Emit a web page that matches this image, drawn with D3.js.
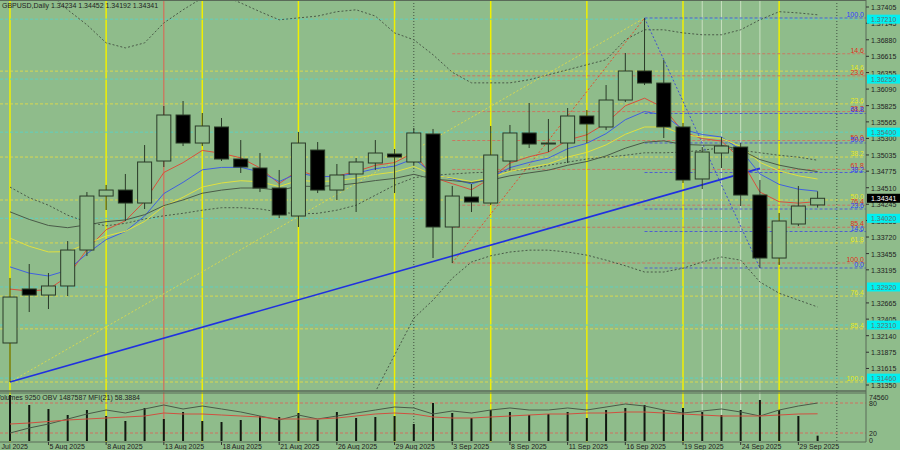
<!DOCTYPE html>
<html>
<head>
<meta charset="utf-8">
<script src="https://cdn.jsdelivr.net/npm/d3@7"></script>
<style>
  body { margin: 0; background: #8fbc8b; }
  svg { display: block; }
  text { font-family: "Liberation Sans", sans-serif; font-size: 7px; }
</style>
</head>
<body>
<svg id="chart" width="900" height="450"></svg>
<script>
// OHLC per daily bar
const opens  = [1.32023,1.32888,1.32791,1.32936,1.33512,1.34377,1.34473,1.34265,1.34938,1.35675,1.35226,1.35483,1.34970,1.34826,1.34505,1.34057,1.35114,1.34473,1.34730,1.34906,1.35050,1.34922,1.35371,1.33881,1.34361,1.34265,1.34938,1.35387,1.35210,1.35226,1.35659,1.35483,1.35915,1.36380,1.36187,1.35483,1.34650,1.35066,1.35162,1.34393,1.33384,1.33929,1.34234];
const highs  = [1.33064,1.33288,1.33144,1.33656,1.34441,1.34554,1.34730,1.35194,1.35819,1.35899,1.35707,1.35627,1.35274,1.35066,1.34794,1.35403,1.35242,1.34890,1.34986,1.35274,1.35130,1.35467,1.35451,1.34538,1.34570,1.35499,1.35515,1.35867,1.35611,1.35787,1.35755,1.36155,1.36668,1.37229,1.36556,1.35547,1.35162,1.35322,1.35226,1.34634,1.34105,1.34538,1.34452];
const lows   = [1.31398,1.32519,1.32567,1.32775,1.33416,1.34153,1.33977,1.34169,1.34842,1.35178,1.35178,1.34938,1.34746,1.34441,1.34025,1.33881,1.34425,1.34313,1.34121,1.34794,1.34425,1.34874,1.33384,1.33304,1.34121,1.34233,1.34794,1.35146,1.35082,1.34906,1.35226,1.35435,1.35883,1.36155,1.35306,1.34586,1.34489,1.34826,1.34217,1.33224,1.33272,1.33897,1.34192];
const closes = [1.32759,1.32791,1.32936,1.33512,1.34377,1.34473,1.34265,1.34922,1.35675,1.35226,1.35499,1.34970,1.34842,1.34505,1.34073,1.35226,1.34473,1.34714,1.34922,1.35066,1.35002,1.35387,1.33881,1.34377,1.34281,1.35034,1.35387,1.35210,1.35226,1.35659,1.35531,1.35915,1.36380,1.36187,1.35483,1.34634,1.35082,1.35178,1.34393,1.33384,1.33977,1.34217,1.34341];

// Bollinger-type envelope
const bandUpper = [1.3800,1.3784,1.3764,1.3736,1.3712,1.3683,1.3675,1.3683,1.3715,1.3736,1.3755,1.3760,1.3747,1.3733,1.3720,1.3723,1.3726,1.3733,1.3736,1.3726,1.3699,1.3688,1.3664,1.3636,1.3619,1.3619,1.3619,1.3624,1.3632,1.3640,1.3648,1.3656,1.3688,1.3704,1.3704,1.3699,1.3696,1.3696,1.3704,1.3720,1.3733,1.3731,1.3728];
const bandMid   = [1.3452,1.3435,1.3423,1.3407,1.3396,1.3390,1.3394,1.3401,1.3406,1.3410,1.3415,1.3419,1.3419,1.3417,1.3412,1.3409,1.3410,1.3415,1.3423,1.3439,1.3455,1.3467,1.3471,1.3473,1.3475,1.3476,1.3478,1.3481,1.3487,1.3492,1.3497,1.3500,1.3503,1.3507,1.3507,1.3508,1.3511,1.3515,1.3511,1.3507,1.3503,1.3500,1.3495];
const bandLower = [1.3063,1.3063,1.3063,1.3063,1.3063,1.3063,1.3063,1.3063,1.3063,1.3063,1.3063,1.3063,1.3063,1.3063,1.3063,1.3063,1.3063,1.3063,1.3063,1.3124,1.3183,1.3242,1.3271,1.3306,1.3332,1.3342,1.3348,1.3351,1.3351,1.3348,1.3343,1.3335,1.3326,1.3316,1.3316,1.3322,1.3332,1.3340,1.3335,1.3300,1.3282,1.3271,1.3260];

// moving averages: periods, colours and the value each held before the first bar
const maPeriods = [5, 8, 13, 21];
const maColors  = ["#d9503c", "#4060e0", "#e0e040", "#4a5a48"];
const maStart   = [1.3295, 1.3338, 1.3386, 1.3426];

// lower panel
const volumes = [79800,62400,55500,45100,53800,43400,34700,57200,38200,50300,34700,32900,36400,43400,41600,48600,36400,50300,39900,41600,43400,29500,65900,48600,39900,53800,50300,45100,46800,50300,39900,53800,57200,62400,53800,57200,50300,45100,53800,71100,53800,43400,9250];
const mfi = [38,40,43,46,48,50,52,54,60,58,58,56,54,52,48,48,48,50,54,58,60,58,52,50,50,52,54,56,58,58,60,60,62,62,60,58,56,54,54,54,56,58,58.3884];
const obv = [1124000,1184900,1233300,1293900,1354500,1403000,1366700,1415200,1463600,1415200,1451500,1415200,1378800,1330300,1281800,1342400,1293900,1330300,1366700,1403000,1439400,1427300,1354500,1390900,1366700,1403000,1427300,1403000,1403000,1427300,1403000,1439400,1475800,1451500,1403000,1366700,1390900,1415200,1378800,1330300,1403000,1451500,1487587];

// axes
const priceTicks = [1.37405,1.37145,1.36880,1.36615,1.36355,1.36090,1.35825,1.35565,1.35300,1.35035,1.34775,1.34510,1.34245,1.33985,1.33720,1.33455,1.33195,1.32665,1.32405,1.32140,1.31875,1.31615,1.31350];
const dateLabels = ["31 Jul 2025","5 Aug 2025","8 Aug 2025","13 Aug 2025","18 Aug 2025","21 Aug 2025","26 Aug 2025","29 Aug 2025","3 Sep 2025","8 Sep 2025","11 Sep 2025","16 Sep 2025","19 Sep 2025","24 Sep 2025","29 Sep 2025"];
const dateBars   = [-1,2,5,8,11,14,17,20,23,26,29,32,35,38,41];

// markup
const weekBars   = [0,5,10,15,20,25,30,35,40];
const redBars    = [8];
const dottedBars = [21,43];
const thinBars   = [36,37,38,39];
const pivotLevels = [1.3721,1.3625,1.3540,1.3402,1.3292,1.3231,1.3146];
const fibYellowRatios = [14.6,23.6,38.2,50.0,61.8,76.4,85.4,100.0];
const fibRedRatios    = [14.6,23.6,38.2,50.0,61.8,76.4,85.4,100.0];
const fibBlueRatios   = [0.0,14.6,23.6,38.2,50.0,61.8,100.0];

const W = 900, H = 450, plotR = 866, mainTop = 0, mainBot = 391, subTop = 392, subBot = 442;
const svg = d3.select('#chart');

const x = d3.scaleLinear().domain([0, 42]).range([10, 817.6]);
const y = d3.scaleLinear().domain([1.31350, 1.37405]).range([385, 7]);
const yVol = d3.scaleLinear().domain([0, 74560]).range([441, 398]);
const yMfi = d3.scaleLinear().domain([0, 100]).range([443, 393]);
const yObv = d3.scaleLinear().domain([1100000, 1500000]).range([435, 402]);

svg.append('rect').attr('width', W).attr('height', H).attr('fill', '#8fbc8b');

svg.append('clipPath').attr('id', 'main').append('rect').attr('x', 0).attr('y', mainTop).attr('width', plotR).attr('height', mainBot - mainTop);
svg.append('clipPath').attr('id', 'sub').append('rect').attr('x', 0).attr('y', subTop).attr('width', plotR).attr('height', subBot - subTop);
const gm = svg.append('g').attr('clip-path', 'url(#main)');
const gs = svg.append('g').attr('clip-path', 'url(#sub)');
const gAll = svg.append('g');

// vertical markers across both panels
function vlines(bars, color, width, dash) {
  bars.forEach(b => {
    gm.append('line').attr('x1', x(b)).attr('x2', x(b)).attr('y1', 0).attr('y2', mainBot)
      .attr('stroke', color).attr('stroke-width', width).attr('stroke-dasharray', dash);
    gs.append('line').attr('x1', x(b)).attr('x2', x(b)).attr('y1', subTop).attr('y2', subBot)
      .attr('stroke', color).attr('stroke-width', width).attr('stroke-dasharray', dash);
  });
}
vlines(thinBars, '#c8e0c0', 1, null);
vlines(weekBars, '#f0f000', 1.5, null);
vlines(redBars, '#e06050', 1, null);
vlines(dottedBars, '#405040', 1, '1,2');

// fibonacci levels
const lowYellow = lows[0], highAll = highs[33], lowRed = lows[23], lowBlue = lows[39];
function fibSet(ratios, p0, p100, startBar, color, labelColor) {
  ratios.forEach(r => {
    const p = p0 + (p100 - p0) * r / 100;
    const x0 = startBar == null ? 0 : x(startBar);
    gm.append('line').attr('x1', x0).attr('x2', plotR).attr('y1', y(p)).attr('y2', y(p))
      .attr('stroke', color).attr('stroke-dasharray', '3,2');
    gm.append('text').attr('x', plotR - 2).attr('y', y(p) - 1).attr('text-anchor', 'end')
      .attr('fill', labelColor).text(r.toFixed(1));
  });
}
pivotLevels.forEach(p => {
  gm.append('line').attr('x1', 0).attr('x2', plotR).attr('y1', y(p)).attr('y2', y(p))
    .attr('stroke', '#5fd0c0').attr('stroke-dasharray', '3,2');
});
fibSet(fibYellowRatios, highAll, lowYellow, null, '#d8d850', '#e8e820');
fibSet(fibRedRatios, highAll, lowRed, 23, '#c87860', '#e03020');
fibSet(fibBlueRatios, lowBlue, highAll, 33, '#5060d0', '#3040ff');

// envelope
const bandLine = d3.line().x((d, i) => x(i)).y(d => y(d));
[bandUpper, bandMid, bandLower].forEach(arr => {
  gm.append('path').attr('d', bandLine(arr)).attr('fill', 'none')
    .attr('stroke', '#4a5a48').attr('stroke-dasharray', '2,2');
});

// trend lines
function seg(b1, p1, b2, p2, color, width, dash) {
  gm.append('line').attr('x1', x(b1)).attr('y1', y(p1)).attr('x2', x(b2)).attr('y2', y(p2))
    .attr('stroke', color).attr('stroke-width', width).attr('stroke-dasharray', dash);
}
seg(0, lows[0], 33, highs[33], '#d8d850', 1, '2,2');
seg(23, lows[23], 33, highs[33], '#e05030', 1, '2,2');
seg(33, highs[33], 39, lows[39], '#4050d0', 1, '2,2');
seg(0, lows[0], 39, 1.34820, '#2030e0', 1.6, null);

// moving averages
maPeriods.forEach((n, k) => {
  const a = 2 / (n + 1);
  let v = maStart[k];
  const vals = closes.map(c => (v = v + a * (c - v)));
  gm.append('path').attr('d', bandLine(vals)).attr('fill', 'none')
    .attr('stroke', maColors[k]).attr('stroke-width', 1);
});

// candles
const bw = 14;
closes.forEach((c, i) => {
  const o = opens[i], up = c >= o;
  gm.append('line').attr('x1', x(i)).attr('x2', x(i)).attr('y1', y(highs[i])).attr('y2', y(lows[i]))
    .attr('stroke', '#2a3a28');
  gm.append('rect').attr('x', x(i) - bw / 2).attr('width', bw)
    .attr('y', y(Math.max(o, c))).attr('height', Math.max(1, Math.abs(y(o) - y(c))))
    .attr('fill', up ? '#8fbc8b' : '#000').attr('stroke', '#2a3a28');
});

// lower panel
gs.append('line').attr('x1', 0).attr('x2', plotR).attr('y1', yMfi(80)).attr('y2', yMfi(80)).attr('stroke', '#d07060').attr('stroke-dasharray', '3,2');
gs.append('line').attr('x1', 0).attr('x2', plotR).attr('y1', yMfi(20)).attr('y2', yMfi(20)).attr('stroke', '#d07060').attr('stroke-dasharray', '3,2');
volumes.forEach((v, i) => {
  gs.append('line').attr('x1', x(i)).attr('x2', x(i)).attr('y1', yVol(0)).attr('y2', yVol(v))
    .attr('stroke', '#101810').attr('stroke-width', 2);
});
gs.append('path').attr('d', d3.line().x((d, i) => x(i)).y(d => yObv(d))(obv))
  .attr('fill', 'none').attr('stroke', '#4a5a48');
gs.append('path').attr('d', d3.line().x((d, i) => x(i)).y(d => yMfi(d))(mfi))
  .attr('fill', 'none').attr('stroke', '#d05040');

// frames
gAll.append('line').attr('x1', 0).attr('x2', plotR).attr('y1', 0.5).attr('y2', 0.5).attr('stroke', '#5a6a58');
gAll.append('line').attr('x1', 0).attr('x2', plotR).attr('y1', mainBot).attr('y2', mainBot).attr('stroke', '#5a6a58').attr('stroke-width', 1.5);
gAll.append('line').attr('x1', 0).attr('x2', plotR).attr('y1', subTop + 1).attr('y2', subTop + 1).attr('stroke', '#5a6a58');
gAll.append('line').attr('x1', 0).attr('x2', plotR).attr('y1', subBot).attr('y2', subBot).attr('stroke', '#5a6a58');
gAll.append('line').attr('x1', plotR).attr('x2', plotR).attr('y1', 0).attr('y2', subBot).attr('stroke', '#5a6a58');

// price axis
priceTicks.forEach(p => {
  gAll.append('line').attr('x1', plotR).attr('x2', plotR + 3).attr('y1', y(p)).attr('y2', y(p)).attr('stroke', '#333');
  gAll.append('text').attr('x', plotR + 5).attr('y', y(p) + 3).attr('fill', '#222').text(p.toFixed(5));
});
pivotLevels.forEach(p => {
  gAll.append('rect').attr('x', plotR + 1).attr('y', y(p) - 4.5).attr('width', 33).attr('height', 9).attr('fill', '#00f0f0');
  gAll.append('text').attr('x', plotR + 5).attr('y', y(p) + 3).attr('fill', '#607070').text(p.toFixed(5));
});
const last = closes[closes.length - 1];
gAll.append('rect').attr('x', plotR + 1).attr('y', y(last) - 4.5).attr('width', 33).attr('height', 9).attr('fill', '#000');
gAll.append('text').attr('x', plotR + 5).attr('y', y(last) + 3).attr('fill', '#fff').text(last.toFixed(5));

// lower axis labels
[[74560, yVol(74560) + 2], [80, yMfi(80) + 3], [20, yMfi(20) + 3], [0, yVol(0) + 2]].forEach(([t, yy]) => {
  gAll.append('text').attr('x', plotR + 3).attr('y', yy).attr('fill', '#222').text(t);
});

// date axis
dateLabels.forEach((t, i) => {
  const xx = x(dateBars[i]);
  gAll.append('line').attr('x1', xx).attr('x2', xx).attr('y1', subBot).attr('y2', subBot + 3).attr('stroke', '#333');
  gAll.append('text').attr('x', xx + 1).attr('y', 449).attr('fill', '#222').text(t);
});

// captions
gAll.append('text').attr('x', 2).attr('y', 8).attr('fill', '#222')
  .text(`GBPUSD,Daily  ${opens[42].toFixed(5)} ${highs[42].toFixed(5)} ${lows[42].toFixed(5)} ${closes[42].toFixed(5)}`);
gAll.append('text').attr('x', -4).attr('y', 400).attr('fill', '#222')
  .text(`Volumes ${volumes[42]}  OBV ${obv[42]}  MFI(21) ${mfi[42].toFixed(4)}`);
</script>
</body>
</html>
